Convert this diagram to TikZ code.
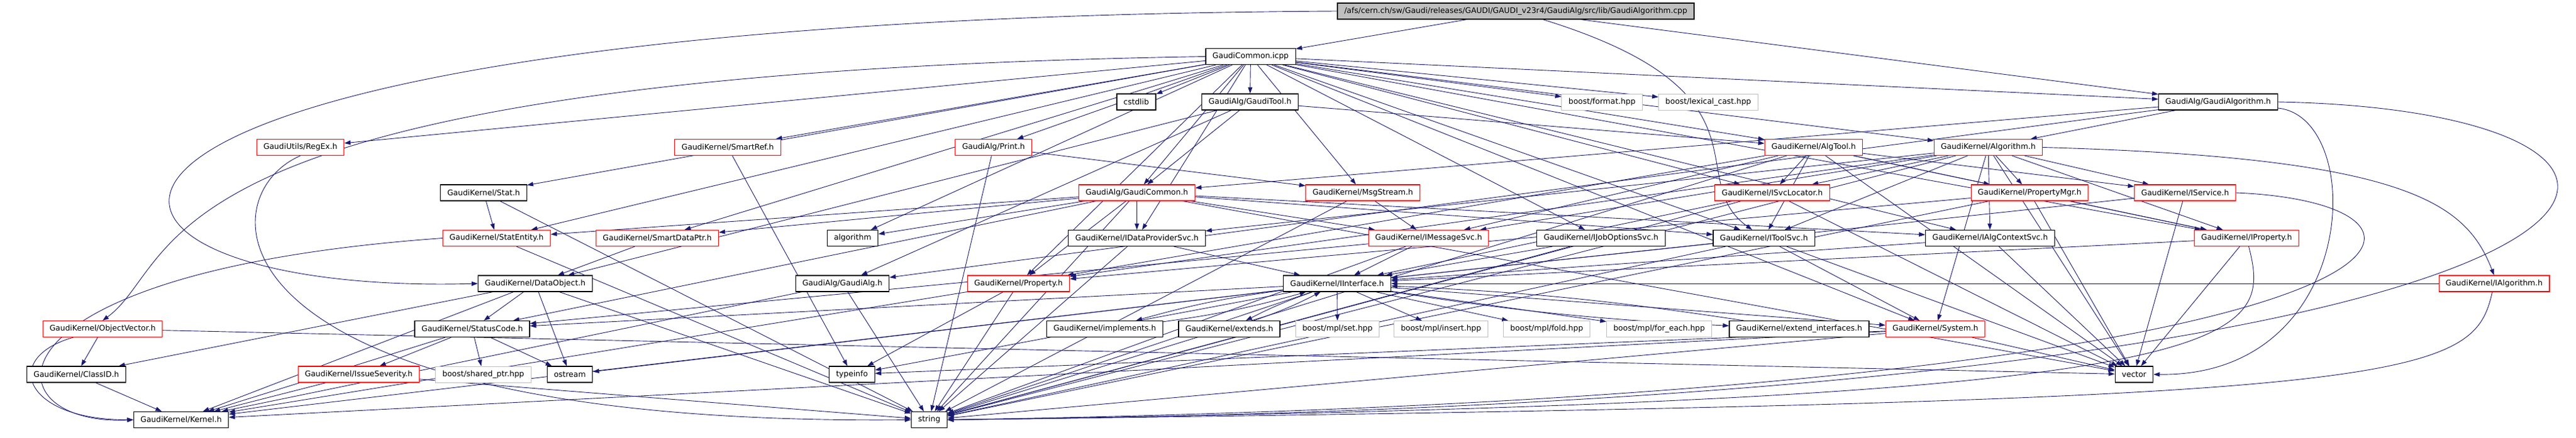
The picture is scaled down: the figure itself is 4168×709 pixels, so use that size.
\documentclass[tikz,border=0pt]{standalone}
\usepackage{fontspec}
\setmainfont{DejaVu Sans}
\usepackage{tikz}
\usetikzlibrary{arrows.meta, positioning, backgrounds}
\definecolor{edgeblue}{HTML}{191970}
\definecolor{truncred}{HTML}{FF0000}
\definecolor{extgrey}{HTML}{BFBFBF}

\begin{document}
\begin{tikzpicture}[x=1pt, y=1pt, node distance=73.5pt,
  source/.style={rectangle, minimum height=26pt, inner xsep=11pt, inner ysep=2pt, text centered, font=\fontsize{12.5}{14}\selectfont, draw=black, line width=1.2pt, fill=extgrey},
  header/.style={rectangle, minimum height=26pt, inner xsep=11pt, inner ysep=2pt, text centered, font=\fontsize{12.5}{14}\selectfont, draw=black, line width=1.2pt, fill=white},
  truncated/.style={rectangle, minimum height=26pt, inner xsep=11pt, inner ysep=2pt, text centered, font=\fontsize{12.5}{14}\selectfont, draw=truncred, line width=1.1pt, fill=white},
  external/.style={rectangle, minimum height=26pt, inner xsep=11pt, inner ysep=2pt, text centered, font=\fontsize{12.5}{14}\selectfont, draw=extgrey, line width=1pt, fill=white},
  arrow/.style={line width=0.9pt, draw=edgeblue, ->, >={Stealth[inset=0pt, length=10pt, width=7pt]}}]

  \useasboundingbox (0,0) rectangle (4168,-709);

  % Nodes
  \node (root) [source] at (2452.5,-18) {/afs/cern.ch/sw/Gaudi/releases/GAUDI/GAUDI\_v23r4/GaudiAlg/src/lib/GaudiAlgorithm.cpp};
  \node (icpp) [header, below of=root, xshift=-429pt] {GaudiCommon.icpp};

  \node (gauditool) [header, below of=icpp, xshift=-1pt] {GaudiAlg/GaudiTool.h};
  \node (cstdlib) [header, left of=gauditool, xshift=-110.5pt] {cstdlib};
  \node (boostformat) [external, right of=gauditool, xshift=496pt] {boost/format.hpp};
  \node (lexicalcast) [external, right of=boostformat, xshift=98.5pt] {boost/lexical\_cast.hpp};
  \node (gaudialgorithmh) [header, right of=lexicalcast, xshift=751.5pt] {GaudiAlg/GaudiAlgorithm.h};

  \node (print) [truncated, below of=gauditool, xshift=-415pt] {GaudiAlg/Print.h};
  \node (smartref) [truncated, left of=print, xshift=-356.5pt] {GaudiKernel/SmartRef.h};
  \node (regex) [truncated, left of=smartref, xshift=-618pt] {GaudiUtils/RegEx.h};
  \node (algtool) [truncated, right of=print, xshift=1253.5pt] {GaudiKernel/AlgTool.h};
  \node (algorithmh) [truncated, right of=algtool, xshift=209pt] {GaudiKernel/Algorithm.h};

  \node (gaudicommonh) [truncated, below of=print, xshift=232pt] {GaudiAlg/GaudiCommon.h};
  \node (stat) [header, left of=gaudicommonh, xshift=-983.5pt] {GaudiKernel/Stat.h};
  \node (msgstream) [truncated, right of=gaudicommonh, xshift=292pt] {GaudiKernel/MsgStream.h};
  \node (isvclocator) [truncated, right of=msgstream, xshift=589pt] {GaudiKernel/ISvcLocator.h};
  \node (propertymgr) [truncated, right of=isvclocator, xshift=343pt] {GaudiKernel/PropertyMgr.h};
  \node (iservice) [truncated, right of=propertymgr, xshift=178pt] {GaudiKernel/IService.h};

  \node (idataprovidersvc) [header, below of=gaudicommonh] {GaudiKernel/IDataProviderSvc.h};
  \node (algorithm) [header, left of=idataprovidersvc, xshift=-386.5pt] {algorithm};
  \node (smartdataptr) [truncated, left of=algorithm, xshift=-242.5pt] {GaudiKernel/SmartDataPtr.h};
  \node (statentity) [truncated, left of=smartdataptr, xshift=-186.5pt] {GaudiKernel/StatEntity.h};
  \node (imessagesvc) [truncated, right of=idataprovidersvc, xshift=398.5pt] {GaudiKernel/IMessageSvc.h};
  \node (ijoboptionssvc) [header, right of=imessagesvc, xshift=205.5pt] {GaudiKernel/IJobOptionsSvc.h};
  \node (itoolsvc) [header, right of=ijoboptionssvc, xshift=190pt] {GaudiKernel/IToolSvc.h};
  \node (ialgcontextsvc) [header, right of=itoolsvc, xshift=292.5pt] {GaudiKernel/IAlgContextSvc.h};
  \node (iproperty) [truncated, right of=ialgcontextsvc, xshift=341.5pt] {GaudiKernel/IProperty.h};

  \node (property) [truncated, below of=idataprovidersvc, xshift=-191.5pt] {GaudiKernel/Property.h};
  \node (gaudialg) [header, left of=property, xshift=-211.5pt] {GaudiAlg/GaudiAlg.h};
  \node (dataobject) [header, left of=gaudialg, xshift=-423.5pt] {GaudiKernel/DataObject.h};
  \node (iinterface) [header, right of=property, xshift=442pt] {GaudiKernel/IInterface.h};
  \node (ialgorithm) [truncated, right of=iinterface, xshift=1798.5pt] {GaudiKernel/IAlgorithm.h};

  \node (mplset) [external, below of=iinterface, xshift=0.5pt] {boost/mpl/set.hpp};
  \node (extends) [header, left of=mplset, xshift=-101.5pt] {GaudiKernel/extends.h};
  \node (implements) [header, left of=extends, xshift=-128pt] {GaudiKernel/implements.h};
  \node (statuscode) [header, left of=implements, xshift=-950pt] {GaudiKernel/StatusCode.h};
  \node (objectvector) [truncated, left of=statuscode, xshift=-524.5pt] {GaudiKernel/ObjectVector.h};
  \node (mplinsert) [external, right of=mplset, xshift=94pt] {boost/mpl/insert.hpp};
  \node (mplfold) [external, right of=mplinsert, xshift=97.5pt] {boost/mpl/fold.hpp};
  \node (mplforeach) [external, right of=mplfold, xshift=108.5pt] {boost/mpl/for\_each.hpp};
  \node (extendinterfaces) [header, right of=mplforeach, xshift=153pt] {GaudiKernel/extend\_interfaces.h};
  \node (system) [truncated, right of=extendinterfaces, xshift=147pt] {GaudiKernel/System.h};

  \node (sharedptr) [external, below of=statuscode, xshift=18pt] {boost/shared\_ptr.hpp};
  \node (issueseverity) [truncated, left of=sharedptr, xshift=-128pt] {GaudiKernel/IssueSeverity.h};
  \node (classid) [header, left of=issueseverity, xshift=-383.5pt] {GaudiKernel/ClassID.h};
  \node (ostream) [header, right of=sharedptr, xshift=66.5pt] {ostream};
  \node (typeinfo) [header, right of=ostream, xshift=383pt] {typeinfo};
  \node (vector) [header, right of=typeinfo, xshift=2001pt] {vector};

  \node (kernel) [header, below of=classid, xshift=169.5pt] {GaudiKernel/Kernel.h};
  \node (string) [header, right of=kernel, xshift=1137pt] {string};

  % Arrows
  \begin{pgfonlayer}{background}
  \draw [arrow] (root) -- (icpp);
  \draw [arrow] (root.west) .. controls (-100,-30) and (0,-480) .. (dataobject.west);
  \draw [arrow] (root) -- (gaudialgorithmh);
  \draw [arrow] (root) .. controls (2880,-150) and (2720,-290) .. (itoolsvc);

  \draw [arrow] (icpp) -- (cstdlib);
  \draw [arrow] (icpp) -- (gauditool);
  \draw [arrow] (icpp) -- (boostformat);
  \draw [arrow] (icpp) -- (lexicalcast);
  \draw [arrow] (icpp) -- (gaudialgorithmh);
  \draw [arrow] (icpp) -- (regex);
  \draw [arrow] (icpp) -- (smartref);
  \draw [arrow] (icpp) -- (print);
  \draw [arrow] (icpp) -- (algtool);
  \draw [arrow] (icpp) -- (algorithmh);
  \draw [arrow] (icpp) -- (stat);
  \draw [arrow] (icpp) -- (gaudicommonh);
  \draw [arrow] (icpp) -- (msgstream);
  \draw [arrow] (icpp) -- (isvclocator);
  \draw [arrow] (icpp) -- (statentity);
  \draw [arrow] (icpp) -- (smartdataptr);
  \draw [arrow] (icpp) -- (algorithm);
  \draw [arrow] (icpp) -- (idataprovidersvc);
  \draw [arrow] (icpp) -- (ijoboptionssvc);
  \draw [arrow] (icpp) -- (itoolsvc);
  \draw [arrow] (icpp) -- (ialgcontextsvc);
  \draw [arrow] (icpp) -- (iproperty);
  \draw [arrow] (icpp) -- (property);
  \draw [arrow] (icpp) -- (system);
  \draw [arrow] (icpp.west) .. controls (200,-120) and (300,-420) .. (objectvector.north);

  \draw [arrow] (gauditool) -- (algtool);
  \draw [arrow] (gauditool) -- (gaudicommonh);
  \draw [arrow] (gauditool) -- (dataobject);
  \draw [arrow] (gauditool) -- (gaudialg);

  \draw [arrow] (gaudialgorithmh) -- (gaudicommonh);
  \draw [arrow] (gaudialgorithmh) -- (gaudialg);
  \draw [arrow] (gaudialgorithmh) -- (algorithmh);
  \draw [arrow] (gaudialgorithmh) .. controls (3830,-190) and (3820,-610) .. (vector.east);
  \draw [arrow] (gaudialgorithmh.east) .. controls (4500,-180) and (4450,-650) .. (string.east);

  \draw [arrow] (regex.south) .. controls (330,-320) and (330,-690) .. (string.west);
  \draw [arrow] (smartref) -- (typeinfo);
  \draw [arrow] (print) -- (msgstream);
  \draw [arrow] (print) -- (string);

  \draw [arrow] (algtool) -- (isvclocator);
  \draw [arrow] (algtool) -- (propertymgr);
  \draw [arrow] (algtool) -- (iservice);
  \draw [arrow] (algtool) -- (iproperty);
  \draw [arrow] (algtool) -- (itoolsvc);
  \draw [arrow] (algtool) -- (imessagesvc);
  \draw [arrow] (algtool) -- (property);
  \draw [arrow] (algtool) -- (vector);
  \draw [arrow] (algtool) -- (string);

  \draw [arrow] (algorithmh) -- (isvclocator);
  \draw [arrow] (algorithmh) -- (propertymgr);
  \draw [arrow] (algorithmh) -- (iservice);
  \draw [arrow] (algorithmh) -- (iproperty);
  \draw [arrow] (algorithmh) -- (itoolsvc);
  \draw [arrow] (algorithmh) -- (imessagesvc);
  \draw [arrow] (algorithmh) -- (idataprovidersvc);
  \draw [arrow] (algorithmh) -- (ialgcontextsvc);
  \draw [arrow] (algorithmh) -- (property);
  \draw [arrow] (algorithmh) -- (system);
  \draw [arrow] (algorithmh) -- (vector);
  \draw [arrow] (algorithmh) -- (string);
  \draw [arrow] (algorithmh.east) .. controls (3900,-255) and (3990,-330) .. (ialgorithm.north);

  \draw [arrow] (stat) -- (statentity);
  \draw [arrow] (stat) -- (string);

  \draw [arrow] (gaudicommonh) -- (statentity);
  \draw [arrow] (gaudicommonh) -- (smartdataptr);
  \draw [arrow] (gaudicommonh) -- (algorithm);
  \draw [arrow] (gaudicommonh) -- (idataprovidersvc);
  \draw [arrow] (gaudicommonh) -- (imessagesvc);
  \draw [arrow] (gaudicommonh) -- (itoolsvc);
  \draw [arrow] (gaudicommonh) -- (ialgcontextsvc);
  \draw [arrow] (gaudicommonh) -- (property);
  \draw [arrow] (gaudicommonh) -- (statuscode);
  \draw [arrow] (gaudicommonh) -- (vector);
  \draw [arrow] (gaudicommonh) -- (string);

  \draw [arrow] (msgstream) -- (imessagesvc);
  \draw [arrow] (msgstream) -- (string);

  \draw [arrow] (isvclocator) -- (iinterface);
  \draw [arrow] (isvclocator) -- (vector);
  \draw [arrow] (isvclocator) -- (string);

  \draw [arrow] (propertymgr) -- (iproperty);
  \draw [arrow] (propertymgr) -- (property);
  \draw [arrow] (propertymgr) -- (vector);
  \draw [arrow] (propertymgr) -- (string);

  \draw [arrow] (iservice) -- (iinterface);
  \draw [arrow] (iservice) -- (vector);
  \draw [arrow] (iservice.east) .. controls (4050,-330) and (4000,-640) .. (string.east);

  \draw [arrow] (statentity.west) .. controls (-50,-440) and (-20,-690) .. (kernel.west);
  \draw [arrow] (statentity) -- (string);
  \draw [arrow] (smartdataptr) -- (dataobject);

  \draw [arrow] (idataprovidersvc) -- (iinterface);
  \draw [arrow] (idataprovidersvc) -- (string);
  \draw [arrow] (imessagesvc) -- (iinterface);
  \draw [arrow] (imessagesvc) -- (statuscode);
  \draw [arrow] (imessagesvc) -- (string);
  \draw [arrow] (ijoboptionssvc) -- (iinterface);
  \draw [arrow] (ijoboptionssvc) -- (string);
  \draw [arrow] (itoolsvc) -- (iinterface);
  \draw [arrow] (itoolsvc) -- (system);
  \draw [arrow] (itoolsvc) -- (vector);
  \draw [arrow] (itoolsvc) -- (string);
  \draw [arrow] (ialgcontextsvc) -- (iinterface);
  \draw [arrow] (ialgcontextsvc) -- (vector);
  \draw [arrow] (iproperty) -- (iinterface);
  \draw [arrow] (iproperty) -- (vector);
  \draw [arrow] (iproperty) .. controls (3680,-560) and (3640,-650) .. (string.east);

  \draw [arrow] (dataobject) -- (statuscode);
  \draw [arrow] (dataobject) -- (ostream);
  \draw [arrow] (dataobject) -- (classid);
  \draw [arrow] (dataobject) -- (kernel);
  \draw [arrow] (dataobject) -- (string);
  \draw [arrow] (gaudialg) -- (kernel);
  \draw [arrow] (gaudialg) -- (string);
  \draw [arrow] (property) -- (typeinfo);
  \draw [arrow] (property) -- (kernel);
  \draw [arrow] (property) -- (string);

  \draw [arrow] (iinterface) -- (mplset);
  \draw [arrow] (iinterface) -- (mplinsert);
  \draw [arrow] (iinterface) -- (mplfold);
  \draw [arrow] (iinterface) -- (mplforeach);
  \draw [arrow] (iinterface) to[bend right=4] (implements);
  \draw [arrow] (implements) to[bend right=4] (iinterface);
  \draw [arrow] (iinterface) to[bend right=4] (extends);
  \draw [arrow] (extends) to[bend right=4] (iinterface);
  \draw [arrow] (iinterface) to[bend right=3] (extendinterfaces);
  \draw [arrow] (extendinterfaces) to[bend right=3] (iinterface);
  \draw [arrow] (iinterface) -- (system);
  \draw [arrow] (iinterface) -- (statuscode);
  \draw [arrow] (iinterface) -- (kernel);
  \draw [arrow] (iinterface) -- (ostream);
  \draw [arrow] (iinterface) -- (typeinfo);
  \draw [arrow] (iinterface) -- (string);

  \draw [arrow] (ialgorithm) -- (iinterface);
  \draw [arrow] (ialgorithm) .. controls (4000,-620) and (3900,-650) .. (string.east);

  \draw [arrow] (objectvector) -- (classid);
  \draw [arrow] (objectvector) .. controls (0,-580) and (40,-680) .. (kernel.west);
  \draw [arrow] (objectvector) -- (vector);

  \draw [arrow] (statuscode) -- (issueseverity);
  \draw [arrow] (statuscode) -- (sharedptr);
  \draw [arrow] (statuscode) -- (ostream);
  \draw [arrow] (statuscode) -- (kernel);

  \draw [arrow] (system) -- (kernel);
  \draw [arrow] (system) -- (string);
  \draw [arrow] (system) -- (vector);
  \draw [arrow] (system) -- (typeinfo);

  \draw [arrow] (classid) -- (kernel);
  \draw [arrow] (issueseverity) -- (kernel);
  \draw [arrow] (issueseverity) -- (string);
  \end{pgfonlayer}

\end{tikzpicture}
\end{document}
